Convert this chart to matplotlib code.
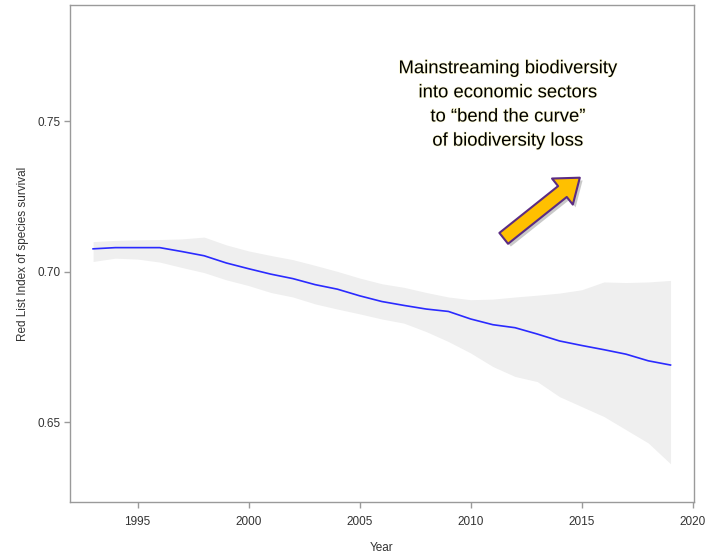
import numpy as np
import matplotlib
matplotlib.use("Agg")
import matplotlib.pyplot as plt
from matplotlib.patches import FancyArrowPatch
import matplotlib.patheffects as pe

plt.rcParams['font.family'] = ['Liberation Sans', 'DejaVu Sans']

# Red List Index
years = np.arange(1993, 2020)
rli = [0.7076, 0.7080, 0.7080, 0.7080, 0.7067, 0.7053, 0.7029, 0.7010, 0.6992,
       0.6977, 0.6957, 0.6942, 0.6920, 0.6901, 0.6888, 0.6876, 0.6868, 0.6843,
       0.6824, 0.6814, 0.6793, 0.6770, 0.6755, 0.6741, 0.6726, 0.6704, 0.6690]
rli_upper = [0.7100, 0.7104, 0.7106, 0.7107, 0.7109, 0.7115, 0.7089, 0.7069, 0.7054,
             0.7040, 0.7021, 0.7001, 0.6979, 0.6960, 0.6948, 0.6931, 0.6916, 0.6907,
             0.6909, 0.6916, 0.6922, 0.6929, 0.6940, 0.6966, 0.6964, 0.6966, 0.6971]
rli_lower = [0.7034, 0.7045, 0.7042, 0.7032, 0.7014, 0.6997, 0.6973, 0.6954, 0.6931,
             0.6916, 0.6893, 0.6876, 0.6860, 0.6843, 0.6829, 0.6801, 0.6768, 0.6730,
             0.6685, 0.6652, 0.6635, 0.6585, 0.6552, 0.6519, 0.6475, 0.6431, 0.6362]

xticks = [1995, 2000, 2005, 2010, 2015, 2020]
yticks = [0.65, 0.70, 0.75]

message = ("Mainstreaming biodiversity\ninto economic sectors\n"
           "to \u201cbend the curve\u201d\nof biodiversity loss")

fig = plt.figure(figsize=(7.1, 5.55), dpi=100)
ax = fig.add_axes([70/710, 1-502/555, 623.6/710, 497/555])

ax.fill_between(years, rli_lower, rli_upper, color='#efefef', lw=0)
ax.plot(years, rli, color='#2a2aff', lw=1.2)

ax.set_xlim(1991.96, 2020.04)
ax.set_ylim(0.6235, 0.7886)
ax.set_xticks(xticks)
ax.set_yticks(yticks)
ax.set_yticklabels([f"{v:.2f}" for v in yticks])

gray = '#9a9a9a'
for s in ax.spines.values():
    s.set_color(gray)
    s.set_linewidth(1.0)
ax.tick_params(axis='both', colors=gray, labelcolor='#333333', labelsize=8.5,
               length=4, width=1.0)
ax.tick_params(axis='x', pad=6)
ax.tick_params(axis='y', pad=3)

ax.set_xlabel("Year", fontsize=8.5, color='#333333', labelpad=10)
ax.set_ylabel("Red List Index of species survival", fontsize=8.5,
              color='#333333', labelpad=6)

# message and arrow
ax.text(0.702, 0.799, message, transform=ax.transAxes, ha='center', va='center',
        fontsize=13.3, linespacing=1.55, color='black',
        path_effects=[pe.withStroke(linewidth=1.0, foreground='#fcf9d2')])

arrow = FancyArrowPatch((0.692, 0.527), (0.821, 0.656), transform=ax.transAxes,
                        arrowstyle='simple,head_width=1.2,head_length=0.8,tail_width=0.5',
                        mutation_scale=20, facecolor='#ffc000', edgecolor='#5b2c83',
                        linewidth=1.5)
arrow.set_path_effects([pe.SimplePatchShadow(offset=(2, -2), shadow_rgbFace='#888888', alpha=0.45),
                        pe.Normal()])
ax.add_patch(arrow)

fig.savefig("out.png", dpi=100)
